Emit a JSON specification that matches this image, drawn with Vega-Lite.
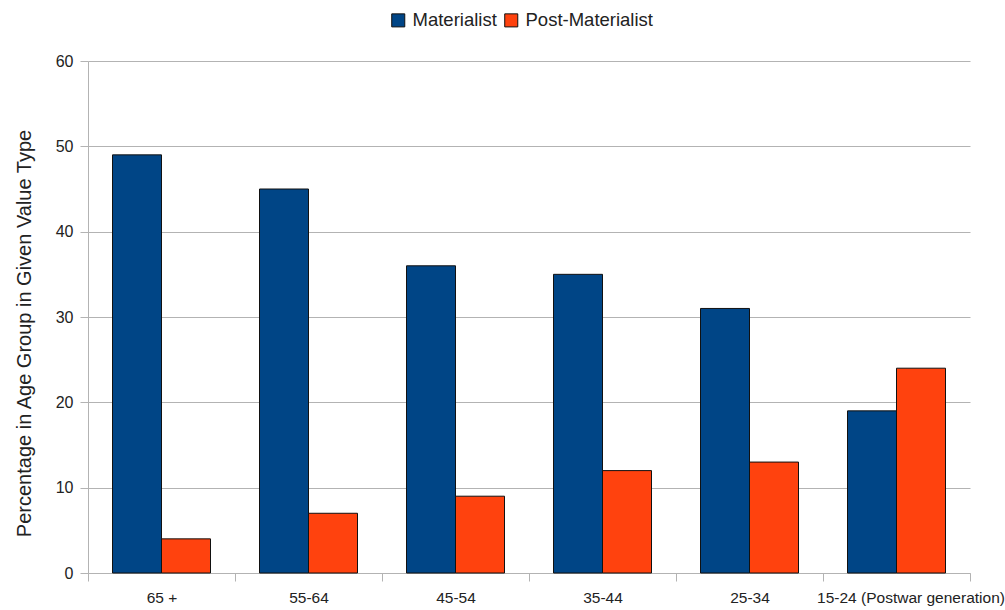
{
  "$schema": "https://vega.github.io/schema/vega-lite/v6.json",
  "width": 882,
  "height": 512,
  "autosize": {"type": "none"},
  "padding": {"left": 88, "top": 61, "right": 35, "bottom": 37},
  "background": "white",
  "config": {
    "font": "Liberation Sans",
    "view": {"stroke": null},
    "axis": {
      "labelFont": "Liberation Sans",
      "titleFont": "Liberation Sans",
      "labelFontSize": 15.5,
      "titleFontSize": 20,
      "labelColor": "#222",
      "titleColor": "#222",
      "titleFontWeight": "normal",
      "domainColor": "#b3b3b3",
      "tickColor": "#b3b3b3",
      "gridColor": "#b3b3b3",
      "tickSize": 8
    }
  },
  "data": {
    "values": [
      {"age": "65 +", "type": "Materialist", "pct": 49},
      {"age": "65 +", "type": "Post-Materialist", "pct": 4},
      {"age": "55-64", "type": "Materialist", "pct": 45},
      {"age": "55-64", "type": "Post-Materialist", "pct": 7},
      {"age": "45-54", "type": "Materialist", "pct": 36},
      {"age": "45-54", "type": "Post-Materialist", "pct": 9},
      {"age": "35-44", "type": "Materialist", "pct": 35},
      {"age": "35-44", "type": "Post-Materialist", "pct": 12},
      {"age": "25-34", "type": "Materialist", "pct": 31},
      {"age": "25-34", "type": "Post-Materialist", "pct": 13},
      {"age": "15-24 (Postwar generation)", "type": "Materialist", "pct": 19},
      {"age": "15-24 (Postwar generation)", "type": "Post-Materialist", "pct": 24}
    ]
  },
  "mark": {"type": "bar", "stroke": "#111", "strokeWidth": 1},
  "encoding": {
    "x": {
      "field": "age",
      "type": "nominal",
      "sort": null,
      "scale": {"paddingInner": 0, "paddingOuter": 0},
      "axis": {
        "title": null,
        "labelAngle": 0,
        "tickBand": "extent",
        "labelPadding": 9,
        "labelLimit": 400,
        "labelOffset": {
          "condition": {"test": "datum.value === '15-24 (Postwar generation)'", "value": 14},
          "value": 0
        },
        "domainColor": "#b3b3b3"
      }
    },
    "xOffset": {
      "field": "type",
      "type": "nominal",
      "sort": ["Materialist", "Post-Materialist"],
      "scale": {"paddingInner": 0, "paddingOuter": 0.5}
    },
    "y": {
      "field": "pct",
      "type": "quantitative",
      "scale": {"domain": [0, 60]},
      "axis": {
        "title": "Percentage in Age Group in Given Value Type",
        "values": [0, 10, 20, 30, 40, 50, 60],
        "labelFontSize": 16,
        "labelPadding": 7,
        "titleX": -64,
        "titleY": 272,
        "titleAngle": -90,
        "titleAlign": "center",
        "titleBaseline": "middle"
      }
    },
    "color": {
      "field": "type",
      "type": "nominal",
      "scale": {"domain": ["Materialist", "Post-Materialist"], "range": ["#004586", "#ff420e"]},
      "legend": {
        "title": null,
        "orient": "none",
        "direction": "horizontal",
        "legendX": 301,
        "legendY": -50,
        "symbolType": "square",
        "symbolSize": 170,
        "symbolStrokeColor": "#111",
        "symbolStrokeWidth": 1,
        "symbolOpacity": 1,
        "labelFontSize": 18.5,
        "labelFont": "Liberation Sans",
        "labelColor": "#222",
        "columnPadding": 5,
        "labelOffset": 5
      }
    }
  }
}
